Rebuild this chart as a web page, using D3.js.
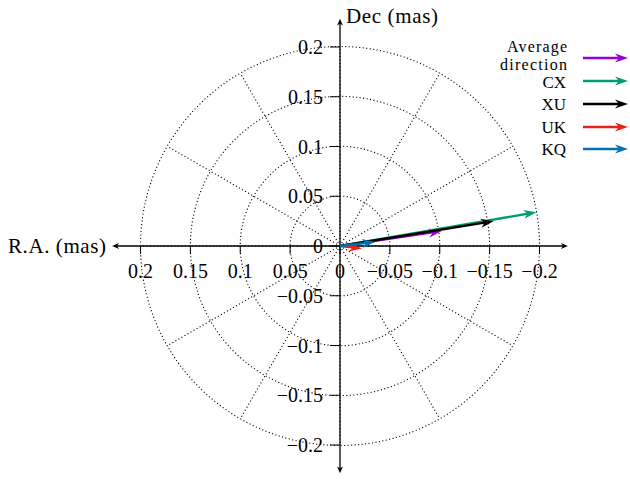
<!DOCTYPE html>
<html><head><meta charset="utf-8">
<script src="https://cdn.jsdelivr.net/npm/d3@7"></script>
<style>html,body{margin:0;padding:0;background:#fff;}</style>
</head><body>
<svg id="c" width="630" height="480"></svg>
<script>
const seriesNames = ["Average direction", "CX", "XU", "UK", "KQ"];
const raValues = [-0.102, -0.197, -0.154, -0.022, -0.035];
const decValues = [0.015, 0.034, 0.025, -0.0025, 0.004];
const seriesColors = ["#9400d3", "#009e73", "#000000", "#e8221a", "#0072b2"];
const tickValues = [0.2, 0.15, 0.1, 0.05, 0, -0.05, -0.1, -0.15, -0.2];
const circleRadii = [0.05, 0.1, 0.15, 0.2];
const spokeAngles = [0, 30, 60, 90, 120, 150, 180, 210, 240, 270, 300, 330];
const axisExtent = 0.2285;

const svg = d3.select("#c");
const font = "'Liberation Serif', 'DejaVu Serif', serif";
const x = d3.scaleLinear().domain([0.2, -0.2]).range([140.5, 539.5]);
const y = d3.scaleLinear().domain([0.2, -0.2]).range([47, 445]);
const cx = x(0), cy = y(0);
const rpx = v => Math.abs(x(v) - x(0));
const fmt = v => v === 0 ? "0" : (v < 0 ? "\u2212" : "") + String(Math.abs(v));

// grid circles
svg.append("g").selectAll("circle").data(circleRadii).join("circle")
  .attr("cx", cx).attr("cy", cy).attr("r", d => rpx(d))
  .attr("fill", "none").attr("stroke", "#000").attr("stroke-width", 1.1)
  .attr("stroke-dasharray", "1.1,2.4");
// spokes
svg.append("g").selectAll("line").data(spokeAngles).join("line")
  .attr("x1", cx).attr("y1", cy)
  .attr("x2", d => cx + rpx(0.2) * Math.cos(d * Math.PI / 180))
  .attr("y2", d => cy - rpx(0.2) * Math.sin(d * Math.PI / 180))
  .attr("stroke", "#000").attr("stroke-width", 1.1).attr("stroke-dasharray", "1.1,2.4");

function head(g, x1, y1, ang, color, len, hw) {
  const c = Math.cos(ang), s = Math.sin(ang);
  const pt = (a, b) => [x1 - a * c + b * s, y1 - a * s - b * c];
  const p = [pt(0, 0), pt(len, hw), pt(len * 0.7, 0), pt(len, -hw)];
  g.append("path").attr("d", "M" + p.map(q => q.join(",")).join("L") + "Z").attr("fill", color);
}
function arrow(g, x0, y0, x1, y1, color, w, len, hw) {
  const ang = Math.atan2(y1 - y0, x1 - x0);
  g.append("line").attr("x1", x0).attr("y1", y0)
    .attr("x2", x1 - Math.cos(ang) * len * 0.6).attr("y2", y1 - Math.sin(ang) * len * 0.6)
    .attr("stroke", color).attr("stroke-width", w);
  head(g, x1, y1, ang, color, len, hw);
}

// axes
const ax = svg.append("g");
arrow(ax, x(0), cy, x(-axisExtent), cy, "#000", 1.3, 7, 3);
arrow(ax, x(0), cy, x(axisExtent), cy, "#000", 1.3, 7, 3);
arrow(ax, cx, y(0), cx, y(axisExtent), "#000", 1.3, 7, 3);
arrow(ax, cx, y(0), cx, y(-axisExtent), "#000", 1.3, 7, 3);

// ticks
ax.selectAll(".xt").data(tickValues).join("line").attr("class", "xt")
  .attr("x1", d => x(d)).attr("x2", d => x(d)).attr("y1", cy).attr("y2", cy + 8)
  .attr("stroke", "#000").attr("stroke-width", 1);
ax.selectAll(".yt").data(tickValues).join("line").attr("class", "yt")
  .attr("y1", d => y(d)).attr("y2", d => y(d)).attr("x1", cx - 10).attr("x2", cx)
  .attr("stroke", "#000").attr("stroke-width", 1);
ax.selectAll(".xl").data(tickValues).join("text").attr("class", "xl")
  .attr("x", d => x(d)).attr("y", cy + 32).attr("text-anchor", "middle")
  .attr("font-family", font).attr("font-size", 20).text(fmt);
ax.selectAll(".yl").data(tickValues).join("text").attr("class", "yl")
  .attr("x", cx - 17).attr("y", d => y(d) + 7).attr("text-anchor", "end")
  .attr("font-family", font).attr("font-size", 20).text(fmt);
ax.append("text").attr("x", 8).attr("y", cy + 7).attr("text-anchor", "start")
  .attr("font-family", font).attr("font-size", 21)
  .attr("textLength", 98).attr("lengthAdjust", "spacing").text("R.A. (mas)");
ax.append("text").attr("x", cx + 6).attr("y", 23).attr("text-anchor", "start")
  .attr("font-family", font).attr("font-size", 21)
  .attr("textLength", 92).attr("lengthAdjust", "spacing").text("Dec (mas)");

// data arrows
const dg = svg.append("g");
seriesNames.forEach((n, i) => {
  arrow(dg, x(0), y(0), x(raValues[i]), y(decValues[i]), seriesColors[i], 2.3, 13, 4.5);
});

// legend
const lg = svg.append("g");
const legY = [58, 81, 104, 127, 149];
seriesNames.forEach((n, i) => {
  arrow(lg, 583, legY[i], 628, legY[i], seriesColors[i], 2.3, 13, 4.5);
  if (i === 0) {
    lg.append("text").attr("x", 567).attr("y", 52).attr("text-anchor", "end")
      .attr("font-family", font).attr("font-size", 16).attr("textLength", 60).text("Average");
    lg.append("text").attr("x", 567).attr("y", 69.5).attr("text-anchor", "end")
      .attr("font-family", font).attr("font-size", 16).attr("textLength", 67).text("direction");
  } else {
    lg.append("text").attr("x", 566).attr("y", i === 1 ? 87.5 : legY[i] + 6).attr("text-anchor", "end")
      .attr("font-family", font).attr("font-size", 17).text(n);
  }
});
</script>
</body></html>
